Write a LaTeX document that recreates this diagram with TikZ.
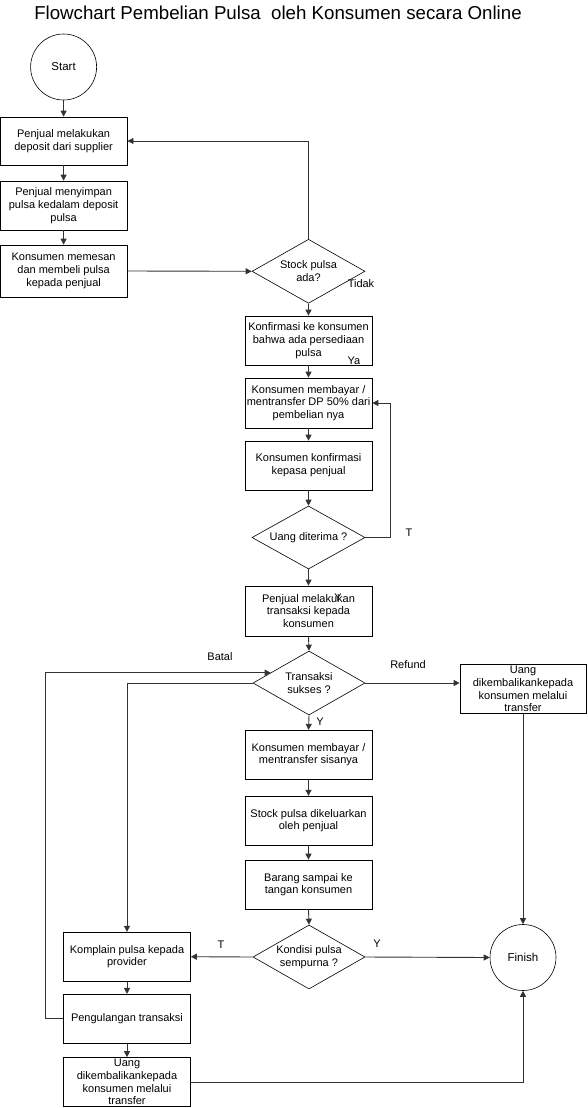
\documentclass[tikz,border=0pt]{standalone}
\usepackage{fontspec}
\setmainfont{Liberation Sans}
\usetikzlibrary{arrows.meta}
\usetikzlibrary{shapes.geometric}
\usetikzlibrary{calc}

\begin{document}
\begin{tikzpicture}[x=1pt,y=-1pt,
  proses/.style={shape=rectangle,
    draw=black,
    line width=0.7pt,
    inner sep=0pt,
    align=center,
    minimum width=127pt,
    minimum height=49pt,
    font=\fontsize{11}{12.7}\selectfont},
  keputusan/.style={shape=diamond,
    draw=black,
    line width=0.6pt,
    inner sep=0pt,
    aspect=1.76,
    align=center,
    minimum width=113pt,
    minimum height=64pt,
    font=\fontsize{11}{12.7}\selectfont},
  terminal/.style={shape=circle,
    draw=black,
    line width=0.6pt,
    minimum size=66pt,
    font=\fontsize{11.5}{13}\selectfont},
  panah/.style={-{Stealth[length=6pt,width=6pt,inset=0pt]},line width=0.9pt,draw=black!80},
  keterangan/.style={inner sep=0pt,font=\fontsize{11}{12.7}\selectfont}]
    %\draw[help lines] (0,0) grid (587,1108); % Only for Development
    \useasboundingbox (0,0) rectangle (587,1108);

    \node[font=\fontsize{18.7}{21}\selectfont] (judul) at (278,13) {Flowchart Pembelian Pulsa\ \ oleh Konsumen secara Online};

    \node[terminal] (mulai) at (63.6,67) {Start};
    \node[proses,minimum height=48pt] (deposit) at (63.6,141) {Penjual melakukan\\deposit dari supplier};
    \node[proses] (simpan) at (63.6,205.5) {Penjual menyimpan\\pulsa kedalam deposit\\pulsa};
    \node[proses,minimum height=52pt] (pesan) at (63.6,271) {Konsumen memesan\\dan membeli pulsa\\kepada penjual};

    \node[keputusan] (stok) at (308.5,271.3) {Stock pulsa\\ada?};
    \node[proses] (konfirmasi) at (308.5,340.5) {Konfirmasi ke konsumen\\bahwa ada persediaan\\pulsa};
    \node[proses,minimum height=50pt] (bayardp) at (308.5,403) {Konsumen membayar /\\mentransfer DP 50\% dari\\pembelian nya};
    \node[proses] (konfjual) at (308.5,465.5) {Konsumen konfirmasi\\kepasa penjual};
    \node[keputusan,minimum height=63pt] (terima) at (308.5,537.5) {Uang diterima ?};
    \node[proses,minimum height=50pt] (transaksi) at (308.5,611) {Penjual melakukan\\transaksi kepada\\konsumen};
    \node[keputusan,minimum width=112pt] (sukses) at (309,683) {Transaksi\\sukses ?};
    \node[proses,minimum width=126pt] (refund) at (523,689) {Uang\\dikembalikankepada\\konsumen melalui\\transfer};
    \node[proses] (sisa) at (308.5,754.7) {Konsumen membayar /\\mentransfer sisanya};
    \node[proses] (keluar) at (308.5,820.7) {Stock pulsa dikeluarkan\\oleh penjual};
    \node[proses] (sampai) at (308.5,884.5) {Barang sampai ke\\tangan konsumen};
    \node[keputusan,minimum width=112pt] (kondisi) at (309,957) {Kondisi pulsa\\sempurna ?};
    \node[terminal] (selesai) at (523,957.5) {Finish};

    \node[proses] (komplain) at (127,956.7) {Komplain pulsa kepada\\provider};
    \node[proses] (ulang) at (127,1018.8) {Pengulangan transaksi};
    \node[proses] (kembali) at (127,1082) {Uang\\dikembalikankepada\\konsumen melalui\\transfer};

    % keterangan
    \node[keterangan] (tidak) at (361,283.3) {Tidak};
    \node[keterangan] (ya) at (354,361) {Ya};
    \node[keterangan] (t1) at (409,533) {T};
    \node[keterangan] (y1) at (338,597.7) {Y};
    \node[keterangan] (batal) at (220,657) {Batal};
    \node[keterangan] (lbrefund) at (408,665) {Refund};
    \node[keterangan] (y2) at (320,721.7) {Y};
    \node[keterangan] (t2) at (221,944.3) {T};
    \node[keterangan] (y3) at (377,944) {Y};

    \draw[panah] (mulai) -- (deposit);
    \draw[panah] (deposit) -- (simpan);
    \draw[panah] (simpan) -- (pesan);
    \draw[panah] (pesan.east) -- (stok.west);
    \draw[panah] (stok.north) |- (deposit.east);
    \draw[panah] (stok.south) -- (konfirmasi.north);
    \draw[panah] (konfirmasi) -- (bayardp);
    \draw[panah] (bayardp) -- (konfjual);
    \draw[panah] (konfjual.south) -- (terima.north);
    \draw[panah] (terima.east) -- ++(25,0) |- (bayardp.east);
    \draw[panah] (terima.south) -- (transaksi.north);
    \draw[panah] (transaksi.south) -- (sukses.north);
    \draw[panah] (sukses.east) -- (sukses.east -| refund.west);
    \draw[panah] (sukses.south) -- (sisa.north);
    \draw[panah] (sisa) -- (keluar);
    \draw[panah] (keluar) -- (sampai);
    \draw[panah] (sampai.south) -- (kondisi.north);
    \draw[panah] (kondisi.west) -- (komplain.east);
    \draw[panah] (kondisi.east) -- (selesai.west);
    \draw[panah] (sukses.west) -| (komplain.north);
    \draw[panah] (komplain) -- (ulang);
    \draw[panah] (ulang) -- (kembali);
    \coordinate (masuk) at ($(sukses.west)!0.32!(sukses.north)$);
    \draw[panah] (ulang.west) -- ++(-18,0) |- (masuk);
    \draw[panah] (refund.south) -- (selesai.north);
    \draw[panah] (kembali.east) -| (selesai.south);

  \end{tikzpicture}
\end{document}
